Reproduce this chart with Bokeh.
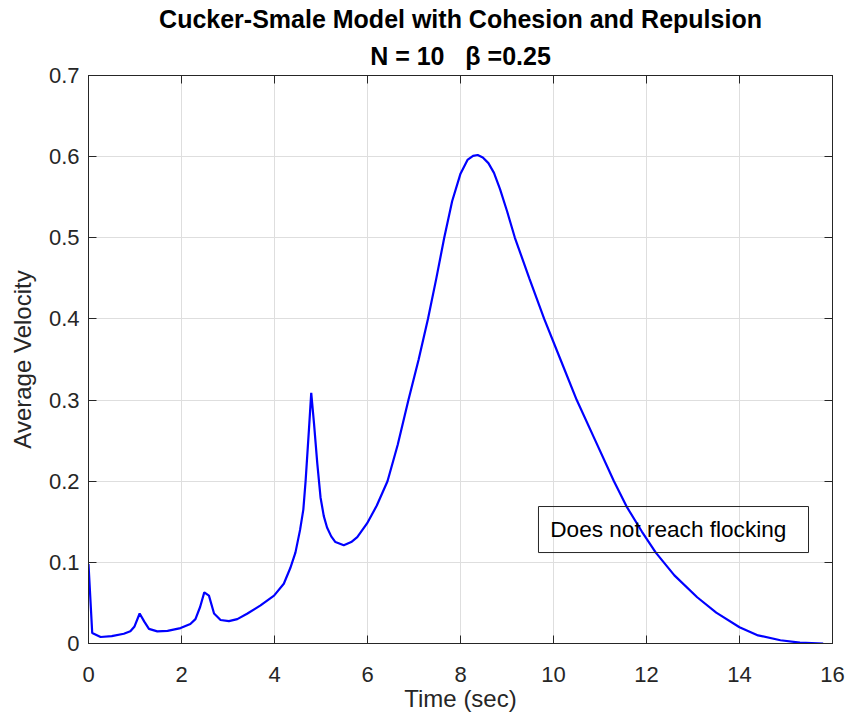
from bokeh.plotting import figure
from bokeh.models import LinearAxis, FixedTicker, Label, BoxAnnotation, Range1d, Title
from bokeh.embed import file_html
from bokeh.resources import INLINE

# ---- data ----
time_sec = [0.0, 0.08, 0.26, 0.5, 0.76, 0.9, 0.99, 1.1, 1.2, 1.3, 1.48, 1.7, 1.98,
            2.19, 2.3, 2.4, 2.49, 2.59, 2.7, 2.84, 3.02, 3.2, 3.41, 3.7, 3.99, 4.2,
            4.34, 4.45, 4.55, 4.62, 4.67, 4.74, 4.79, 4.85, 4.92, 4.99, 5.06, 5.13,
            5.22, 5.31, 5.49, 5.65, 5.78, 5.99, 6.2, 6.43, 6.65, 6.88, 7.1, 7.3,
            7.48, 7.65, 7.82, 8.0, 8.15, 8.27, 8.37, 8.48, 8.6, 8.72, 8.85, 9.0,
            9.17, 9.48, 9.8, 10.15, 10.5, 10.9, 11.3, 11.58, 11.9, 12.2, 12.6,
            13.09, 13.5, 14.0, 14.4, 14.88, 15.3, 15.8]
avg_velocity = [0.098, 0.013, 0.008, 0.009, 0.012, 0.015, 0.021, 0.037, 0.027, 0.018,
                0.015, 0.0155, 0.019, 0.024, 0.030, 0.045, 0.063, 0.059, 0.037, 0.029,
                0.0275, 0.030, 0.0366, 0.047, 0.059, 0.0736, 0.093, 0.112, 0.14, 0.165,
                0.201, 0.263, 0.309, 0.271, 0.222, 0.180, 0.157, 0.143, 0.132, 0.125,
                0.121, 0.125, 0.131, 0.148, 0.170, 0.200, 0.245, 0.300, 0.350, 0.400,
                0.450, 0.500, 0.545, 0.579, 0.596, 0.601, 0.602, 0.599, 0.592, 0.580,
                0.560, 0.533, 0.500, 0.450, 0.400, 0.350, 0.300, 0.250, 0.200, 0.168,
                0.138, 0.112, 0.084, 0.057, 0.038, 0.020, 0.010, 0.004, 0.001, 0.0]

x_ticks = [0, 2, 4, 6, 8, 10, 12, 14, 16]
x_tick_labels = ["0", "2", "4", "6", "8", "10", "12", "14", "16"]
y_ticks = [0.0, 0.1, 0.2, 0.3, 0.4, 0.5, 0.6, 0.7]
y_tick_labels = ["0", "0.1", "0.2", "0.3", "0.4", "0.5", "0.6", "0.7"]

title_line1 = "Cucker-Smale Model with Cohesion and Repulsion"
title_line2 = "N = 10\u00a0\u00a0\u00a0\u03b2 =0.25"
x_label = "Time (sec)"
y_label = "Average Velocity"
note_text = "Does not reach flocking"

FONT = "Liberation Sans"
AX_COLOR = "#262626"
GRID_COLOR = "#dedede"

p = figure(width=846, height=715, x_range=Range1d(0, 16), y_range=Range1d(0, 0.7),
           output_backend="svg", toolbar_location=None, title=None,
           min_border_left=88, min_border_right=14, min_border_top=75, min_border_bottom=72,
           background_fill_color="white", border_fill_color="white",
           outline_line_color=AX_COLOR, outline_line_width=1)

# grid
p.xgrid.ticker = FixedTicker(ticks=x_ticks)
p.ygrid.ticker = FixedTicker(ticks=y_ticks)
for g in (p.xgrid, p.ygrid):
    g.grid_line_color = GRID_COLOR
    g.grid_line_width = 1

def style_axis(ax, ticks, labels, show_labels=True):
    ax.ticker = FixedTicker(ticks=ticks)
    ax.major_tick_in = 8
    ax.major_tick_out = 0
    ax.minor_tick_line_color = None
    ax.axis_line_color = AX_COLOR
    ax.axis_line_width = 1
    ax.major_tick_line_color = AX_COLOR
    ax.major_tick_line_width = 1
    if show_labels:
        ax.major_label_overrides = {t: l for t, l in zip(ticks, labels)}
        ax.major_label_text_font = FONT
        ax.major_label_text_font_size = "22px"
        ax.major_label_text_color = AX_COLOR
        ax.axis_label_text_font = FONT
        ax.axis_label_text_font_size = "24px"
        ax.axis_label_text_font_style = "normal"
        ax.axis_label_text_color = AX_COLOR
    else:
        # box-style mirror axis: ticks only, no labels
        ax.major_label_overrides = {t: "" for t in ticks}
        ax.major_label_text_font_size = "1px"
        ax.major_label_standoff = 0

bx = p.xaxis[0]
style_axis(bx, x_ticks, x_tick_labels)
bx.axis_label = x_label
bx.major_label_standoff = 23
bx.axis_label_standoff = 0

ly = p.yaxis[0]
style_axis(ly, y_ticks, y_tick_labels)
ly.axis_label = y_label
ly.major_label_standoff = 9
ly.axis_label_standoff = 10

top_ax = LinearAxis()
style_axis(top_ax, x_ticks, x_tick_labels, show_labels=False)
p.add_layout(top_ax, "above")
right_ax = LinearAxis()
style_axis(right_ax, y_ticks, y_tick_labels, show_labels=False)
p.add_layout(right_ax, "right")

# two-line bold title
p.add_layout(Title(text=title_line2, align="center", text_font=FONT, text_font_size="25px",
                   text_font_style="bold", text_color="black", standoff=12), "above")
p.add_layout(Title(text=title_line1, align="center", text_font=FONT, text_font_size="25px",
                   text_font_style="bold", text_color="black", standoff=2, offset=-8), "above")

# curve
p.line(time_sec, avg_velocity, line_color="#0000ff", line_width=2.2)

# annotation text box
p.add_layout(BoxAnnotation(left=9.677, right=15.484, bottom=0.1121, top=0.1688,
                           fill_alpha=0, line_color=AX_COLOR, line_width=1, line_alpha=1))
p.add_layout(Label(x=9.93, y=0.141, text=note_text, text_font=FONT,
                   text_font_size="22.6px", text_color="black",
                   text_baseline="alphabetic", text_align="left"))

open("out.html", "w").write(file_html(p, INLINE))
